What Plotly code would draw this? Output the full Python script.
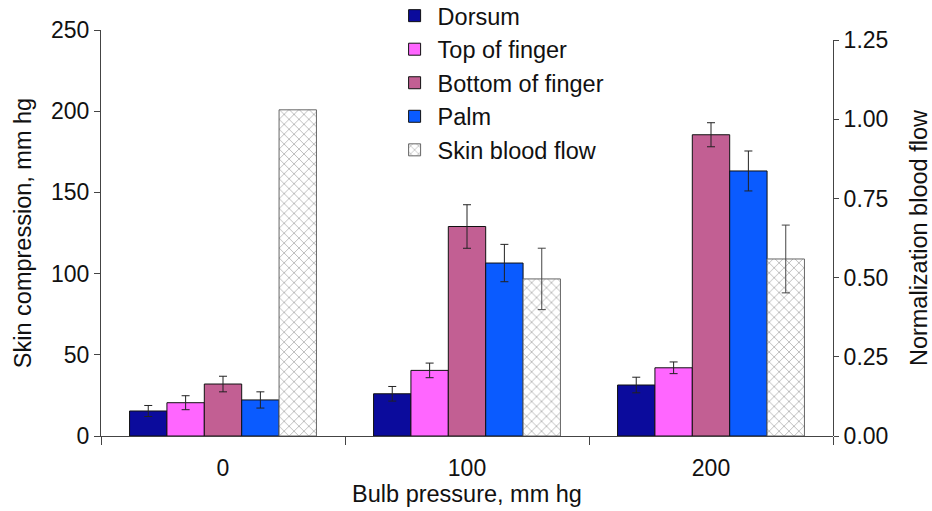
import plotly.graph_objects as go

categories = ["0", "100", "200"]

dorsum = [15.4, 26, 31.4]
dorsum_err = [3.4, 4.5, 4.8]
top_finger = [20.5, 40.4, 42]
top_finger_err = [4.3, 4.5, 3.6]
bottom_finger = [32, 129, 185.5]
bottom_finger_err = [4.8, 13.4, 7.4]
palm = [22.2, 106.5, 163.2]
palm_err = [5, 11.5, 12.3]
blood_flow = [1.03, 0.496, 0.559]
blood_flow_err = ["NaN", 0.097, 0.107]  # no error bar on the 0 mm hg reference

FONT = "Liberation Sans, Arial, sans-serif"
FS = 23.5
TFS = 23

series = [
    ("Dorsum", dorsum, dorsum_err, "#0B0B9C", "y"),
    ("Top of finger", top_finger, top_finger_err, "#FF66FF", "y"),
    ("Bottom of finger", bottom_finger, bottom_finger_err, "#C25F93", "y"),
    ("Palm", palm, palm_err, "#0A5BFF", "y"),
]

fig = go.Figure()
for i, (name, vals, errs, color, ax) in enumerate(series):
    fig.add_trace(go.Bar(
        name=name, x=categories, y=vals, yaxis=ax,
        offsetgroup=str(i + 1), alignmentgroup="g",
        marker=dict(color=color, line=dict(color="#111111", width=1)),
        error_y=dict(type="data", array=errs, visible=True,
                     color="#222222", thickness=1, width=4),
    ))

fig.add_trace(go.Bar(
    name="Skin blood flow", x=categories, y=blood_flow, yaxis="y2",
    offsetgroup="5", alignmentgroup="g",
    marker=dict(color="white",
                line=dict(color="#666666", width=1),
                pattern=dict(shape="x", fgcolor="#777777", bgcolor="white",
                             size=7, solidity=0.25)),
    error_y=dict(type="data", array=blood_flow_err,
                 visible=True, color="#444444", thickness=1, width=4),
))

fig.update_layout(
    width=932, height=511,
    margin=dict(l=101, r=99, t=30, b=75, autoexpand=False),
    paper_bgcolor="white", plot_bgcolor="rgba(0,0,0,0)",
    barmode="group", bargap=0.234, bargroupgap=0,
    font=dict(family=FONT, size=FS, color="#111111"),
    showlegend=True,
    legend=dict(x=0.397, y=1.089, xanchor="left", yanchor="top",
                bgcolor="rgba(0,0,0,0)", font=dict(size=FS),
                tracegroupgap=0, itemwidth=36),
    xaxis=dict(
        type="category", showline=True, linecolor="#444444", linewidth=1,
        ticks="outside", ticklen=8, tickcolor="#444444", tickson="boundaries",
        showgrid=False, zeroline=False, ticklabelstandoff=11,
        title=dict(text="Bulb pressure, mm hg", standoff=5, font=dict(size=FS)),
        tickfont=dict(size=TFS),
    ),
    yaxis=dict(
        range=[0, 250], dtick=50, showline=True, linecolor="#444444", linewidth=1,
        ticks="outside", ticklen=6, tickcolor="#444444",
        showgrid=False, zeroline=False,
        title=dict(text="Skin compression, mm hg", standoff=12, font=dict(size=FS)),
        tickfont=dict(size=TFS),
    ),
    yaxis2=dict(
        range=[0, 1.25], dtick=0.25, tickformat=".2f",
        domain=[0, 0.975], anchor="x", side="right",
        showline=True, linecolor="#444444", linewidth=1,
        ticks="outside", ticklen=5, tickcolor="#444444",
        showgrid=False, zeroline=False,
        title=dict(text="Normalization blood flow", standoff=26, font=dict(size=FS)),
        tickfont=dict(size=TFS),
    ),
)

fig.write_html("out.html")
